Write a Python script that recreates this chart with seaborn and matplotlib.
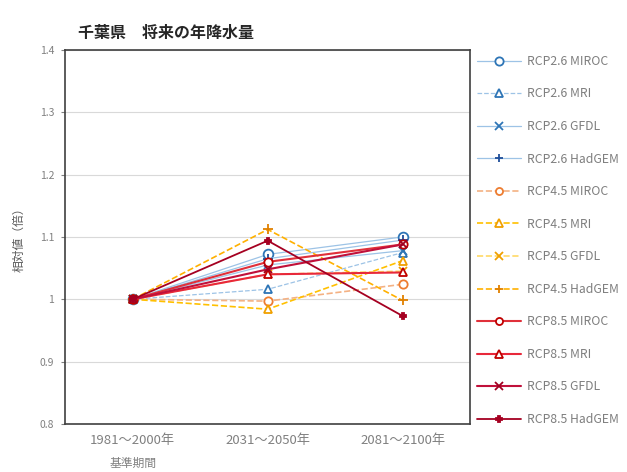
import matplotlib
matplotlib.use("Agg")
import matplotlib.pyplot as plt
import seaborn as sns
import pandas as pd

sns.set_theme(style="white")
plt.rcParams['font.family'] = ['Noto Sans CJK JP', 'DejaVu Sans']

periods = ["1981～2000年", "2031～2050年", "2081～2100年"]
base_label = "基準期間"
series_names = ["RCP2.6 MIROC", "RCP2.6 MRI", "RCP2.6 GFDL", "RCP2.6 HadGEM",
                "RCP4.5 MIROC", "RCP4.5 MRI", "RCP4.5 GFDL", "RCP4.5 HadGEM",
                "RCP8.5 MIROC", "RCP8.5 MRI", "RCP8.5 GFDL", "RCP8.5 HadGEM"]
rcp26_miroc = [1.000, 1.072, 1.100]
rcp26_mri = [1.000, 1.016, 1.075]
rcp26_gfdl = [1.000, 1.055, 1.078]
rcp26_hadgem = [1.000, 1.065, 1.095]
rcp45_miroc = [1.000, 0.997, 1.024]
rcp45_mri = [1.000, 0.984, 1.062]
rcp45_gfdl = [1.000, 1.040, 1.045]
rcp45_hadgem = [1.000, 1.112, 0.998]
rcp85_miroc = [1.000, 1.060, 1.088]
rcp85_mri = [1.000, 1.040, 1.043]
rcp85_gfdl = [1.000, 1.048, 1.088]
rcp85_hadgem = [1.000, 1.094, 0.973]
values = [rcp26_miroc, rcp26_mri, rcp26_gfdl, rcp26_hadgem,
          rcp45_miroc, rcp45_mri, rcp45_gfdl, rcp45_hadgem,
          rcp85_miroc, rcp85_mri, rcp85_gfdl, rcp85_hadgem]
yticks = [0.8, 0.9, 1.0, 1.1, 1.2, 1.3, 1.4]

styles = [
    dict(color="#9DC3E6", mec="#2E75B6", marker="o", ls="-", lw=0.9, ms=7, mfc="white"),
    dict(color="#9DC3E6", mec="#2E75B6", marker="^", ls="--", lw=0.9, ms=6, mfc="white"),
    dict(color="#9DC3E6", mec="#2E75B6", marker="x", ls="-", lw=0.9, ms=6, mfc="white"),
    dict(color="#9DC3E6", mec="#1F4E9A", marker="+", ls="-", lw=0.9, ms=7, mfc="white"),
    dict(color="#F4B183", mec="#ED7D31", marker="o", ls="--", lw=1.2, ms=6, mfc="white"),
    dict(color="#FFC000", mec="#F0A000", marker="^", ls="--", lw=1.2, ms=6, mfc="white"),
    dict(color="#FFD966", mec="#F0A000", marker="x", ls="--", lw=1.2, ms=6, mfc="white"),
    dict(color="#FFB000", mec="#E08000", marker="+", ls="--", lw=1.2, ms=7, mfc="white"),
    dict(color="#E0303A", mec="#C00000", marker="o", ls="-", lw=1.5, ms=6, mfc="white"),
    dict(color="#E8283A", mec="#C00000", marker="^", ls="-", lw=1.5, ms=6, mfc="white"),
    dict(color="#C0103A", mec="#A00020", marker="x", ls="-", lw=1.5, ms=6, mfc="white"),
    dict(color="#A50021", mec="#A50021", marker="P", ls="-", lw=1.3, ms=5, mfc="#A50021"),
]

fig = plt.figure(figsize=(6.27, 4.72), dpi=100)
ax = fig.add_axes([0.104, 0.102, 0.646, 0.792])

for name, vals, st in zip(series_names, values, styles):
    df = pd.DataFrame({"period": periods, "value": vals})
    sns.lineplot(data=df, x="period", y="value", ax=ax, sort=False,
                 color=st["color"], linestyle=st["ls"], linewidth=st["lw"],
                 marker=st["marker"], markersize=st["ms"],
                 markeredgecolor=st["mec"], markerfacecolor=st["mfc"],
                 markeredgewidth=1.3, label=name)

ax.set_xlim(-0.5, 2.5)
ax.set_ylim(0.8, 1.4)
ax.set_yticks(yticks)
ax.set_yticklabels([f"{v:g}" for v in yticks])
ax.yaxis.grid(True, color="#D9D9D9", linewidth=0.8)
ax.set_axisbelow(True)
for sp in ax.spines.values():
    sp.set_color("#404040")
    sp.set_linewidth(1.2)
ax.tick_params(axis="x", labelsize=9.5, colors="#808080", length=0, pad=7)
ax.tick_params(axis="y", labelsize=7.5, colors="#808080", length=3,
               direction="out", left=True, width=0.8, pad=5)
ax.set_xlabel("")
ax.set_ylabel("相対値（倍）", fontsize=8.5, color="#595959", labelpad=10)

ax.annotate(base_label, xy=(0, 0), xycoords=("data", "axes fraction"),
            xytext=(0, -24), textcoords="offset points", ha="center", va="top",
            fontsize=8.5, color="#808080")

fig.text(0.124, 0.93, "千葉県　将来の年降水量", fontsize=11.5, fontweight="bold",
         color="#262626", ha="left", va="center")

leg = ax.legend(loc="upper left", bbox_to_anchor=(1.005, 1.0), frameon=False,
                fontsize=8.8, labelspacing=1.6, handlelength=3.6, handletextpad=0.5,
                borderaxespad=0.0, markerscale=0.85)
for t in leg.get_texts():
    t.set_color("#7F7F7F")

fig.savefig("out.png", dpi=100)
